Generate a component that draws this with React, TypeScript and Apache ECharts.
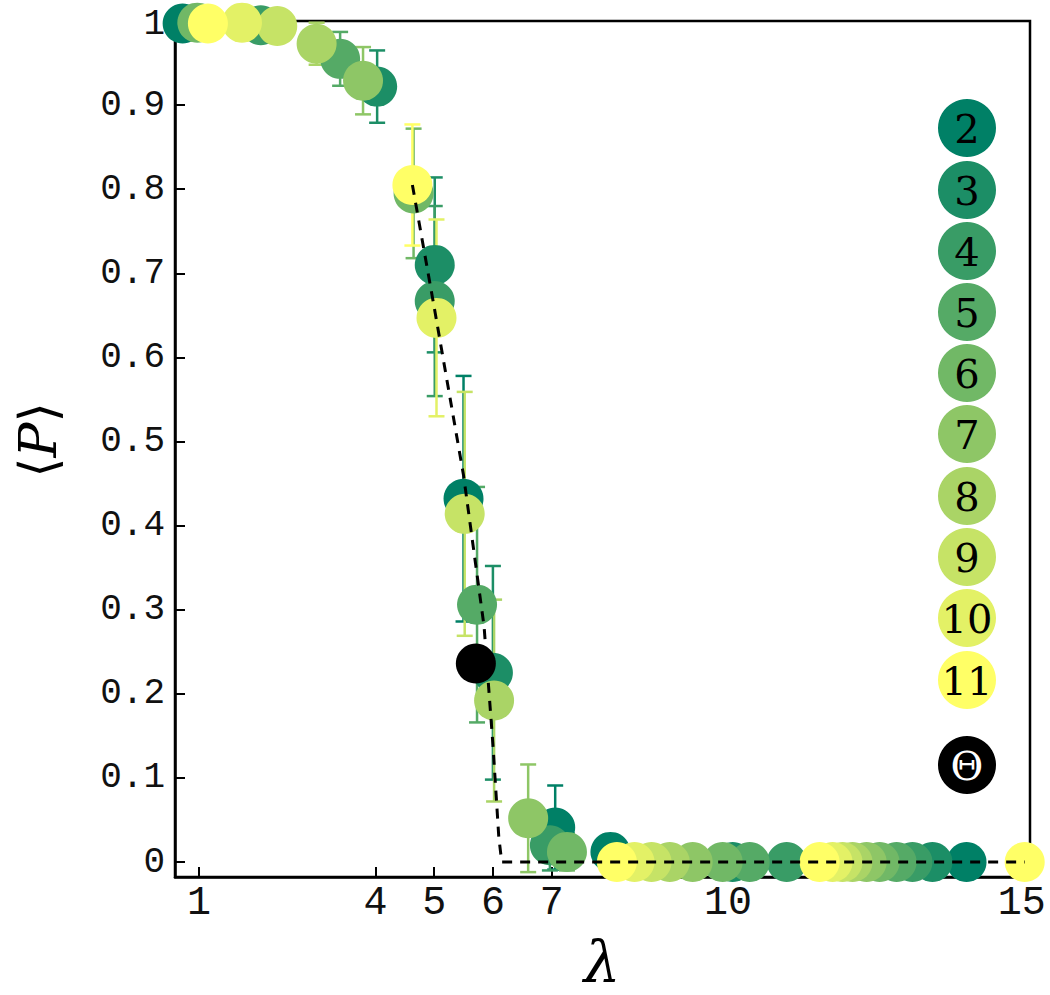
import React, { useEffect, useRef } from "react";
import * as echarts from "echarts";

// ---- data ----
const seriesNames = ["2", "3", "4", "5", "6", "7", "8", "9", "10", "11"];
const seriesColors = ["#008066", "#1c8e66", "#399c66", "#55aa66", "#71b866", "#8ec666", "#aad466", "#c6e366", "#e3f166", "#ffff66"];

// [lambda, <P>, error]
const pointsN2 = [[0.72, 0.997, 0], [5.5, 0.432, 0.146], [7.06, 0.041, 0.05], [8.0, 0.012, 0], [14.06, 0, 0]];
const pointsN3 = [[4.03, 0.922, 0.043], [5.01, 0.71, 0.104], [6.0, 0.225, 0.127], [10.08, 0, 0], [13.48, 0, 0]];
const pointsN4 = [[2.05, 0.995, 0], [5.01, 0.667, 0.113], [6.97, 0.02, 0.03], [11.0, 0, 0], [13.14, 0, 0]];
const pointsN5 = [[3.4, 0.955, 0.032], [5.73, 0.306, 0.14], [10.37, 0, 0], [12.87, 0, 0]];
const pointsN6 = [[0.97, 0.998, 0], [4.65, 0.795, 0.077], [7.26, 0.012, 0.022], [9.91, 0, 0], [12.58, 0, 0]];
const pointsN7 = [[3.79, 0.929, 0.04], [6.6, 0.052, 0.064], [9.4, 0, 0], [12.36, 0, 0]];
const pointsN8 = [[3.0, 0.973, 0.025], [6.02, 0.192, 0.12], [9.01, 0, 0], [12.12, 0, 0]];
const pointsN9 = [[2.33, 0.994, 0], [5.52, 0.414, 0.145], [8.7, 0, 0], [11.95, 0, 0]];
const pointsN10 = [[1.73, 0.998, 0], [5.04, 0.647, 0.117], [8.41, 0, 0], [11.78, 0, 0]];
const pointsN11 = [[1.15, 0.997, 0], [4.63, 0.805, 0.072], [8.11, 0, 0], [11.56, 0, 0], [15.05, 0, 0]];
const allPoints = [pointsN2, pointsN3, pointsN4, pointsN5, pointsN6, pointsN7, pointsN8, pointsN9, pointsN10, pointsN11];

const thetaPoint = [[5.71, 0.236]];

const fitLambda = [4.63, 5.0, 5.5, 5.85, 6.0, 6.1, 6.15, 15.05];
const fitP = [0.805, 0.66, 0.46, 0.28, 0.14, 0.03, 0, 0];

const xTicks = [1, 4, 5, 6, 7, 10, 15];
const yTicks = [0, 0.1, 0.2, 0.3, 0.4, 0.5, 0.6, 0.7, 0.8, 0.9, 1];
const yTickLabels = ["0", "0.1", "0.2", "0.3", "0.4", "0.5", "0.6", "0.7", "0.8", "0.9", "1"];

export default function App() {
  const ref = useRef<HTMLDivElement>(null);

  useEffect(() => {
    if (!ref.current) return;
    const chart = echarts.init(ref.current, null, { renderer: "svg" });

    const series: any[] = [];
    allPoints.forEach((pts, i) => {
      const color = seriesColors[i];
      series.push({
        type: "custom",
        name: "err" + seriesNames[i],
        data: pts.filter((p) => p[2] > 0),
        z: 2,
        renderItem: (params: any, api: any) => {
          const x = api.value(0);
          const y = api.value(1);
          const e = api.value(2);
          const top = api.coord([x, y + e]);
          const bot = api.coord([x, y - e]);
          const hw = 8;
          const st = { stroke: color, lineWidth: 2.5 };
          return {
            type: "group",
            children: [
              { type: "line", shape: { x1: top[0], y1: top[1], x2: bot[0], y2: bot[1] }, style: st },
              { type: "line", shape: { x1: top[0] - hw, y1: top[1], x2: top[0] + hw, y2: top[1] }, style: st },
              { type: "line", shape: { x1: bot[0] - hw, y1: bot[1], x2: bot[0] + hw, y2: bot[1] }, style: st },
            ],
          };
        },
      });
      series.push({
        type: "scatter",
        name: seriesNames[i],
        data: pts.map((p) => [p[0], p[1]]),
        symbolSize: 40,
        itemStyle: { color, opacity: 1 },
        z: 2,
        clip: false,
      });
    });
    series.push({
      type: "scatter",
      name: "Θ",
      data: thetaPoint,
      symbolSize: 40,
      itemStyle: { color: "#000000", opacity: 1 },
      z: 2,
      clip: false,
    });
    series.push({
      type: "line",
      data: fitLambda.map((l, i) => [l, fitP[i]]),
      showSymbol: false,
      symbol: "none",
      lineStyle: { color: "#000", width: 3, type: [10, 8] },
      z: 5,
    });

    const legendY = [128, 190, 251, 312, 373, 434, 496, 557, 618, 680];
    const graphic: any[] = [];
    seriesNames.forEach((n, i) => {
      graphic.push({
        type: "circle",
        shape: { cx: 967, cy: legendY[i], r: 29 },
        style: { fill: seriesColors[i] },
        z: 10,
      });
      graphic.push({
        type: "text",
        x: 967,
        y: legendY[i] + 1,
        style: {
          text: n,
          fill: "#000",
          font: "40px 'DejaVu Serif'",
          textAlign: "center",
          textVerticalAlign: "middle",
        },
        z: 11,
      });
    });
    graphic.push({ type: "circle", shape: { cx: 967, cy: 765, r: 29 }, style: { fill: "#000" }, z: 10 });
    graphic.push({
      type: "text",
      x: 967,
      y: 766,
      style: { text: "Θ", fill: "#fff", font: "40px 'DejaVu Serif'", textAlign: "center", textVerticalAlign: "middle" },
      z: 11,
    });
    // axis names
    graphic.push({
      type: "text",
      x: 602,
      y: 962,
      style: { text: "λ", fill: "#000", font: "italic 58px 'DejaVu Serif'", textAlign: "center", textVerticalAlign: "middle" },
    });
    graphic.push({
      type: "text",
      x: 38,
      y: 440,
      rotation: Math.PI / 2,
      style: {
        text: "⟨{p|P}⟩",
        fill: "#000",
        font: "52px 'DejaVu Serif'",
        textAlign: "center",
        textVerticalAlign: "middle",
        rich: { p: { fontStyle: "italic", fontSize: 52, fontFamily: "DejaVu Serif" } },
      },
    });

    chart.setOption({
      animation: false,
      backgroundColor: "#fff",
      grid: { left: 175, right: 20, top: 17, bottom: 118, show: true, borderColor: "#000", borderWidth: 2.5, backgroundColor: "transparent" },
      xAxis: {
        type: "value",
        min: 0.59,
        max: 15.14,
        splitLine: { show: false },
        axisLine: { onZero: false, lineStyle: { color: "#000", width: 2.5 } },
        axisTick: { show: true, inside: true, length: 10, lineStyle: { color: "#000", width: 2 }, customValues: xTicks },
        axisLabel: {
          customValues: xTicks,
          color: "#111",
          fontFamily: "Liberation Mono",
          fontSize: 40,
          margin: 6,
          formatter: (v: number) => String(v),
        },
      },
      yAxis: {
        type: "value",
        min: -0.0178,
        max: 1,
        splitLine: { show: false },
        axisLine: { onZero: false, lineStyle: { color: "#000", width: 2.5 } },
        axisTick: { show: true, inside: true, length: 10, lineStyle: { color: "#000", width: 2 }, customValues: yTicks },
        axisLabel: {
          customValues: yTicks,
          color: "#111",
          fontFamily: "Liberation Mono",
          fontSize: 36,
          lineHeight: 30,
          margin: 10,
          formatter: (v: number) => {
            const idx = yTicks.findIndex((t) => Math.abs(t - v) < 1e-6);
            if (idx < 0) return "";
            return idx === yTicks.length - 1 ? "{t|" + yTickLabels[idx] + "}" : yTickLabels[idx];
          },
          rich: {
            t: { fontFamily: "Liberation Mono", fontSize: 36, lineHeight: 30, padding: [6, 0, 0, 0], color: "#111" },
          },
        },
      },
      series,
      graphic,
    });

    return () => chart.dispose();
  }, []);

  return <div ref={ref} style={{ position: "fixed", left: 0, top: 0, width: 1050, height: 995, background: "#fff" }} />;
}
